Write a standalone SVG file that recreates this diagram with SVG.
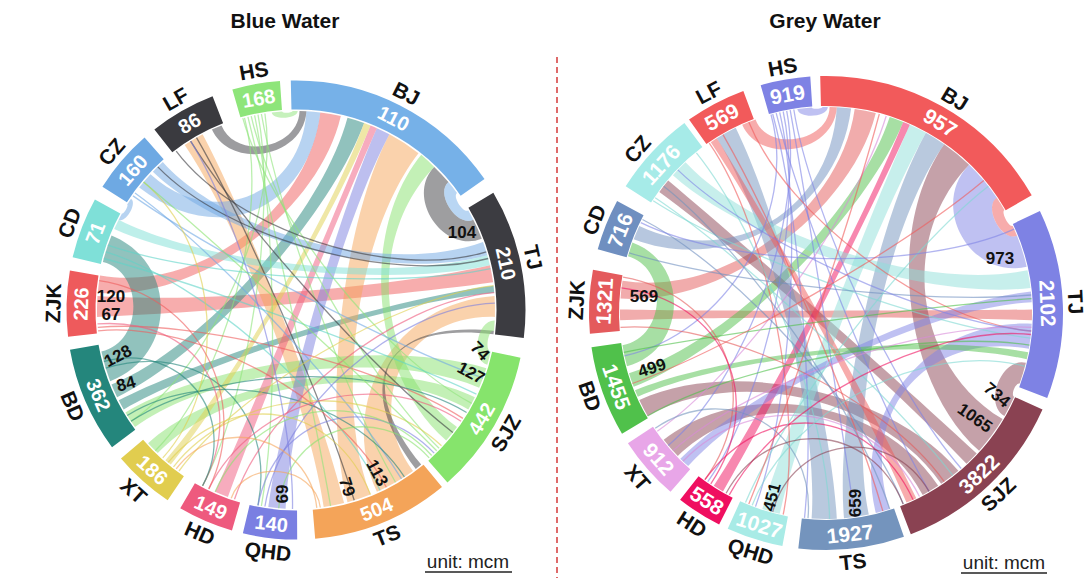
<svg xmlns="http://www.w3.org/2000/svg" width="1091" height="582" viewBox="0 0 1091 582">
<style>
text{font-family:"Liberation Sans",Arial,Helvetica,sans-serif;font-weight:bold}
.rib{stroke:none;fill-opacity:.5}
.ln{fill:none;stroke-width:1.3;stroke-opacity:.6}
.segL{fill:none;stroke-width:29}
.segR{fill:none;stroke-width:30}
.val{fill:#fff;font-size:20px;text-anchor:middle;dominant-baseline:central}
.valR{fill:#fff;font-size:21px;text-anchor:middle;dominant-baseline:central}
.nm{fill:#111;font-size:21px;text-anchor:middle;dominant-baseline:central}
.num{fill:#111;font-size:17px;text-anchor:middle;dominant-baseline:central}
.ttl{fill:#111;font-size:21px;text-anchor:middle}
.unit{fill:#222;font-size:19px;font-weight:normal;text-anchor:middle}
</style>
<rect width="1091" height="582" fill="#fff"/>

<text class="ttl" x="285" y="28">Blue Water</text>
<text class="ttl" x="825" y="28">Grey Water</text>
<line x1="557" y1="57" x2="557" y2="578" stroke="#d43a3a" stroke-width="1.5" stroke-dasharray="6 4"/>

<!-- LEFT connectors -->
<g id="connectors-left">
<path class="rib" fill="#3d3d42" d="M434.2,166.9 A199,199 0 0 1 448.4,182.1 C434.7,193.6 457.3,227.8 473.3,219.7 A199,199 0 0 1 481.8,238.7 C442.8,253.7 405.2,197.0 434.2,166.9 Z"/>
<path class="rib" fill="#74aee8" d="M448.4,182.1 A199,199 0 0 1 457.0,193.0 C452.2,196.5 463.1,213.5 468.3,210.5 A199,199 0 0 1 473.3,219.7 C457.3,227.8 434.7,193.6 448.4,182.1 Z"/>
<path class="rib" fill="#ef5b5b" d="M97.8,292.7 A199,199 0 0 1 100.0,275.4 C198.0,292.7 308.2,211.3 320.3,112.5 A199,199 0 0 1 340.8,116.1 C318.4,213.1 196.9,301.4 97.8,292.7 Z"/>
<path class="rib" fill="#ef5b5b" d="M97.1,316.9 A199,199 0 0 1 97.5,296.1 C196.8,303.1 393.0,287.6 489.9,265.2 A199,199 0 0 1 493.1,282.3 C394.6,296.2 196.6,313.5 97.1,316.9 Z"/>
<path class="rib" fill="#23857c" d="M110.2,381.3 A199,199 0 0 1 101.4,351.4 C143.2,342.5 144.4,272.2 102.9,261.9 A199,199 0 0 1 111.5,235.5 C177.9,262.3 177.1,355.6 110.2,381.3 Z"/>
<path class="rib" fill="#23857c" d="M117.1,397.2 A199,199 0 0 1 111.5,384.5 C203.8,347.3 321.8,213.9 347.5,117.8 A199,199 0 0 1 364.1,123.0 C330.1,216.5 206.6,353.6 117.1,397.2 Z"/>
<path class="rib" fill="#23857c" d="M123.7,409.5 A199,199 0 0 1 118.7,400.3 C207.4,355.2 394.8,297.9 493.5,285.7 A199,199 0 0 1 494.2,292.7 C395.1,301.4 209.9,359.8 123.7,409.5 Z"/>
<path class="rib" fill="#f5a55a" d="M494.5,296.1 A199,199 0 0 1 494.9,316.9 C407.4,313.9 361.5,400.2 413.0,471.0 A199,199 0 0 1 376.9,491.8 C336.5,400.9 395.3,303.1 494.5,296.1 Z"/>
<path class="rib" fill="#f5a55a" d="M389.4,134.3 A199,199 0 0 1 418.5,153.2 C357.3,231.6 333.3,402.3 370.5,494.5 A199,199 0 0 1 347.5,502.2 C321.8,406.1 342.7,222.2 389.4,134.3 Z"/>
<path class="rib" fill="#f5a55a" d="M344.1,503.1 A199,199 0 0 1 323.7,507.1 C309.9,408.6 240.4,227.5 184.7,145.0 A199,199 0 0 1 202.6,134.3 C249.3,222.2 320.1,406.6 344.1,503.1 Z"/>
<path class="rib" fill="#3d3d42" d="M493.9,330.8 A199,199 0 0 1 493.5,334.3 C384.9,320.9 352.3,379.6 421.2,464.6 A199,199 0 0 1 415.8,468.9 C349.9,381.5 385.1,319.4 493.9,330.8 Z"/>
<path class="rib" fill="#88e26e" d="M494.7,320.4 A199,199 0 0 1 493.9,330.8 C488.0,330.2 484.8,350.2 490.6,351.4 A199,199 0 0 1 487.3,364.8 C470.1,359.9 476.8,319.5 494.7,320.4 Z"/>
<path class="rib" fill="#88e26e" d="M486.3,368.2 A199,199 0 0 1 479.2,387.8 C387.6,348.9 215.5,368.5 135.0,427.0 A199,199 0 0 1 125.4,412.5 C210.7,361.3 391.2,339.1 486.3,368.2 Z"/>
<path class="rib" fill="#88e26e" d="M421.2,154.8 A199,199 0 0 1 434.2,166.9 C365.1,238.5 376.5,368.5 457.0,427.0 A199,199 0 0 1 446.2,440.6 C371.1,375.3 358.6,232.4 421.2,154.8 Z"/>
<path class="rib" fill="#88e26e" d="M474.9,397.2 A199,199 0 0 1 468.3,409.5 C382.2,359.8 226.9,381.6 157.8,453.1 A199,199 0 0 1 148.1,443.2 C222.1,376.6 385.5,353.6 474.9,397.2 Z"/>
<path class="rib" fill="#7b7fe0" d="M376.9,128.2 A199,199 0 0 1 389.4,134.3 C342.7,222.2 290.8,409.4 285.6,508.7 A199,199 0 0 1 268.3,507.1 C282.2,408.6 336.5,219.1 376.9,128.2 Z"/>
<path class="rib" fill="#ef5a7d" d="M370.5,125.5 A199,199 0 0 1 376.9,128.2 C336.5,219.1 262.0,403.5 227.9,497.0 A199,199 0 0 1 215.1,491.8 C255.6,400.9 333.3,217.8 370.5,125.5 Z"/>
<path class="rib" fill="#e0cf4d" d="M364.1,123.0 A199,199 0 0 1 370.5,125.5 C333.3,217.8 233.4,387.3 170.8,464.6 A199,199 0 0 1 165.4,460.2 C230.7,385.1 330.1,216.5 364.1,123.0 Z"/>
<path class="rib" fill="#6fa8e4" d="M139.2,187.5 A199,199 0 0 1 150.5,174.3 C211.6,231.3 302.0,194.8 306.4,111.3 A199,199 0 0 1 320.3,112.5 C308.2,211.3 217.6,248.8 139.2,187.5 Z"/>
<path class="rib" fill="#6fa8e4" d="M483.0,241.9 A199,199 0 0 1 487.3,255.2 C391.7,282.6 224.5,240.9 152.9,171.8 A199,199 0 0 1 162.8,162.1 C229.4,236.1 389.5,276.0 483.0,241.9 Z"/>
<path class="rib" fill="#7ee0d6" d="M487.3,255.2 A199,199 0 0 1 489.9,265.2 C393.0,287.6 205.1,269.6 114.2,229.1 A199,199 0 0 1 118.7,219.7 C207.4,264.9 391.7,282.6 487.3,255.2 Z"/>
<path class="rib" fill="#8de47a" d="M271.7,112.5 A199,199 0 0 1 282.1,111.5 C282.2,113.5 292.5,113.0 292.5,111.0 A199,199 0 0 1 297.7,111.0 C297.6,119.0 272.7,120.4 271.7,112.5 Z"/>
<path class="rib" fill="#3a3a40" d="M211.9,129.6 A199,199 0 0 1 221.5,125.5 C235.7,160.6 298.8,148.8 299.5,111.0 A199,199 0 0 1 306.4,111.3 C304.0,157.0 231.2,171.1 211.9,129.6 Z"/>
<path class="rib" fill="#6fa8e4" d="M118.7,219.7 A199,199 0 0 1 122.0,213.5 C123.7,214.5 128.9,205.6 127.2,204.5 A199,199 0 0 1 131.0,198.7 C137.6,203.2 125.8,223.3 118.7,219.7 Z"/>
<path class="ln" stroke="#8de47a" d="M247.9,116.9 C272.0,213.5 313.3,408.0 330.6,506.0"/>
<path class="ln" stroke="#8de47a" d="M251.2,116.1 C273.6,213.1 367.6,379.1 439.1,448.2"/>
<path class="ln" stroke="#8de47a" d="M254.6,115.3 C275.3,212.7 278.7,408.0 261.4,506.0"/>
<path class="ln" stroke="#8de47a" d="M258.0,114.7 C277.0,212.4 249.3,397.9 202.6,485.7"/>
<path class="ln" stroke="#8de47a" d="M261.4,114.0 C278.7,212.0 345.8,396.2 395.5,482.3"/>
<path class="ln" stroke="#8de47a" d="M264.9,113.5 C280.5,211.8 213.5,365.7 131.0,421.3"/>
<path class="ln" stroke="#8de47a" d="M244.5,117.8 C270.3,213.9 225.7,380.4 155.3,450.7"/>
<path class="ln" stroke="#8de47a" d="M242.8,118.2 C269.4,214.1 383.9,356.7 471.7,403.4"/>
<path class="ln" stroke="#3a3a40" d="M176.2,151.1 C236.1,230.6 391.2,280.9 486.3,251.8"/>
<path class="ln" stroke="#3a3a40" d="M157.8,166.9 C226.9,238.5 392.1,284.3 488.2,258.5"/>
<path class="ln" stroke="#3a3a40" d="M196.5,137.7 C246.3,223.9 325.1,405.2 354.2,500.3"/>
<path class="ln" stroke="#3a3a40" d="M190.6,141.2 C243.3,225.6 374.4,371.3 452.8,432.5"/>
<path class="ln" stroke="#6fa8e4" d="M133.0,195.9 C214.5,253.0 389.5,344.1 483.0,378.1"/>
<path class="ln" stroke="#6fa8e4" d="M135.0,193.0 C215.5,251.5 348.8,394.4 401.5,478.8"/>
<path class="ln" stroke="#5fd3c8" d="M103.8,258.5 C199.9,284.3 386.2,352.1 476.4,394.1"/>
<path class="ln" stroke="#5fd3c8" d="M105.7,251.8 C200.9,280.9 338.1,400.2 380.1,490.4"/>
<path class="ln" stroke="#5fd3c8" d="M107.8,245.2 C201.9,277.6 393.3,289.3 490.6,268.6"/>
<path class="ln" stroke="#ef5b5b" d="M97.8,327.3 C196.9,318.7 379.5,364.2 462.9,418.4"/>
<path class="ln" stroke="#ef5b5b" d="M98.1,330.8 C197.1,320.4 341.2,398.7 386.3,487.3"/>
<path class="ln" stroke="#23857c" d="M131.0,421.3 C213.5,365.7 381.3,361.3 466.6,412.5"/>
<path class="ln" stroke="#23857c" d="M127.2,415.5 C211.6,362.8 350.2,393.5 404.4,476.9"/>
<path class="ln" stroke="#23857c" d="M105.7,368.2 C200.9,339.1 277.0,407.7 258.0,505.3"/>
<path class="ln" stroke="#e0cf4d" d="M179.0,471.0 C237.5,390.5 394.8,297.9 493.5,285.7"/>
<path class="ln" stroke="#e0cf4d" d="M173.5,466.8 C234.8,388.4 368.8,377.9 441.5,445.7"/>
<path class="ln" stroke="#e0cf4d" d="M162.8,457.9 C229.4,384.0 219.8,246.1 143.6,182.1"/>
<path class="ln" stroke="#ef5a7d" d="M234.5,499.3 C265.3,404.7 395.1,301.4 494.2,292.7"/>
<path class="ln" stroke="#ef5a7d" d="M208.8,488.9 C252.4,399.5 378.5,365.7 461.0,421.3"/>
<path class="ln" stroke="#ef5a7d" d="M202.6,485.7 C249.3,397.9 196.8,317.0 97.5,323.9"/>
<path class="ln" stroke="#7b7fe0" d="M264.9,506.5 C280.5,408.3 395.5,306.6 494.9,303.1"/>
<path class="ln" stroke="#7b7fe0" d="M258.0,505.3 C275.5,415.5 370.6,387.3 434.2,453.1"/>
<path class="ln" stroke="#7b7fe0" d="M292.5,509.0 C294.3,409.5 243.3,225.6 190.6,141.2"/>
<path class="ln" stroke="#88e26e" d="M436.7,450.7 C366.4,380.4 219.8,246.1 143.6,182.1"/>
<path class="ln" stroke="#88e26e" d="M431.7,455.5 C363.9,382.8 255.6,400.9 215.1,491.8"/>
<path class="ln" stroke="#88e26e" d="M429.2,457.9 C375.9,398.7 285.6,428.9 278.7,508.2"/>
<path class="ln" stroke="#f5a55a" d="M316.8,507.9 C309.3,436.7 219.3,411.7 176.2,468.9"/>
<path class="ln" stroke="#f5a55a" d="M320.3,507.5 C315.1,465.0 245.1,457.7 231.2,498.2"/>
<path class="ln" stroke="#23857c" d="M103.8,361.5 C180.7,340.9 240.0,415.4 202.6,485.7"/>
<path class="ln" stroke="#ef5b5b" d="M99.2,280.6 C197.6,295.3 252.4,399.5 208.8,488.9"/>
<path class="ln" stroke="#e0cf4d" d="M168.1,462.4 C232.1,386.2 333.3,402.3 370.5,494.5"/>
</g>

<!-- RIGHT connectors -->
<g id="connectors-right">
<path class="rib" fill="#7f83e6" d="M969.1,164.8 A206,206 0 0 1 996.8,197.8 C983.1,207.0 1001.7,242.0 1017.0,235.8 A206,206 0 0 1 1026.7,266.7 C970.5,279.7 929.0,206.3 969.1,164.8 Z"/>
<path class="rib" fill="#f05a5a" d="M996.8,197.8 A206,206 0 0 1 1004.4,210.0 C1000.8,212.1 1009.0,227.6 1012.7,225.9 A206,206 0 0 1 1017.0,235.8 C1001.7,242.0 983.1,207.0 996.8,197.8 Z"/>
<path class="rib" fill="#e45a5a" d="M620.5,298.6 A206,206 0 0 1 622.5,280.8 C724.3,296.9 840.4,211.0 854.7,109.0 A206,206 0 0 1 875.8,113.1 C850.9,213.1 723.3,305.8 620.5,298.6 Z"/>
<path class="rib" fill="#e45a5a" d="M1032.0,309.4 A206,206 0 0 1 1031.9,320.2 C928.9,316.6 723.1,316.6 620.1,320.2 A206,206 0 0 1 620.0,309.4 C723.0,311.2 929.0,311.2 1032.0,309.4 Z"/>
<path class="rib" fill="#4fc04a" d="M627.0,366.3 A206,206 0 0 1 622.5,345.2 C665.2,338.4 669.6,268.1 628.0,256.2 A206,206 0 0 1 632.4,242.5 C690.5,263.6 686.7,350.3 627.0,366.3 Z"/>
<path class="rib" fill="#4fc04a" d="M889.7,117.1 A206,206 0 0 1 903.2,122.0 C864.6,217.5 729.9,349.9 633.7,386.8 A206,206 0 0 1 629.0,373.2 C727.5,343.1 857.9,215.1 889.7,117.1 Z"/>
<path class="rib" fill="#8b4353" d="M1025.9,362.8 A206,206 0 0 1 1019.6,383.5 C1015.7,382.1 1010.4,395.1 1014.2,396.8 A206,206 0 0 1 1004.4,416.0 C983.0,403.6 1001.9,356.8 1025.9,362.8 Z"/>
<path class="rib" fill="#8b4353" d="M944.2,144.3 A206,206 0 0 1 969.1,164.8 C897.6,238.9 914.3,366.1 1002.6,419.1 A206,206 0 0 1 979.1,450.8 C902.6,381.9 885.1,228.7 944.2,144.3 Z"/>
<path class="rib" fill="#8b4353" d="M958.4,470.8 A206,206 0 0 1 941.2,483.8 C883.6,398.4 736.8,364.5 647.6,416.0 A206,206 0 0 1 639.3,400.1 C732.7,356.6 892.2,391.9 958.4,470.8 Z"/>
<path class="rib" fill="#8b4353" d="M938.2,485.8 A206,206 0 0 1 922.7,494.9 C874.4,404.0 751.9,384.6 677.8,456.1 A206,206 0 0 1 663.7,439.8 C744.9,376.4 882.1,399.4 938.2,485.8 Z"/>
<path class="rib" fill="#8b4353" d="M976.7,453.5 A206,206 0 0 1 966.5,463.7 C896.3,388.4 742.7,252.5 659.3,191.9 A206,206 0 0 1 668.2,180.6 C747.1,246.8 901.4,383.3 976.7,453.5 Z"/>
<path class="rib" fill="#7394bd" d="M925.9,132.8 A206,206 0 0 1 944.2,144.3 C885.1,228.7 847.4,413.8 868.8,514.5 A206,206 0 0 1 844.0,518.2 C835.0,415.6 876.0,222.9 925.9,132.8 Z"/>
<path class="rib" fill="#7394bd" d="M836.8,518.7 A206,206 0 0 1 811.6,518.5 C818.8,415.8 771.4,225.7 716.8,138.3 A206,206 0 0 1 735.7,127.8 C780.9,220.4 831.4,415.9 836.8,518.7 Z"/>
<path class="rib" fill="#6f8fbf" d="M633.7,239.2 A206,206 0 0 1 639.3,225.9 C732.7,269.5 831.4,210.2 836.8,107.3 A206,206 0 0 1 851.1,108.5 C838.6,210.8 729.9,276.1 633.7,239.2 Z"/>
<path class="rib" fill="#8fe0da" d="M909.8,124.8 A206,206 0 0 1 925.9,132.8 C876.0,222.9 802.9,413.4 779.7,513.7 A206,206 0 0 1 762.3,508.9 C794.2,411.0 867.9,218.9 909.8,124.8 Z"/>
<path class="rib" fill="#f0115f" fill-opacity=".7" d="M903.2,122.0 A206,206 0 0 1 909.8,124.8 C867.9,218.9 774.5,402.2 723.0,491.4 A206,206 0 0 1 713.8,485.8 C769.9,399.4 864.6,217.5 903.2,122.0 Z"/>
<path class="rib" fill="#f05a5a" d="M742.2,124.8 A206,206 0 0 1 755.5,119.4 C767.5,152.3 829.0,142.0 829.6,107.0 A206,206 0 0 1 836.8,107.3 C834.4,152.6 760.6,166.2 742.2,124.8 Z"/>
<path class="rib" fill="#7f83e6" d="M797.3,109.0 A206,206 0 0 1 811.6,107.5 C811.7,109.6 822.4,109.1 822.4,107.0 A206,206 0 0 1 827.8,107.0 C827.7,117.3 798.7,119.2 797.3,109.0 Z"/>
<path class="rib" fill="#8fe0da" d="M1027.5,270.2 A206,206 0 0 1 1030.5,287.9 C928.3,300.5 749.5,244.1 672.9,175.2 A206,206 0 0 1 685.5,162.3 C755.8,237.7 926.8,291.6 1027.5,270.2 Z"/>
<path class="rib" fill="#7f83e6" d="M1031.7,323.8 A206,206 0 0 1 1028.9,348.8 C927.5,330.9 857.9,411.0 889.7,508.9 A206,206 0 0 1 875.8,512.9 C850.9,413.0 928.9,318.4 1031.7,323.8 Z"/>
<path class="rib" fill="#7f83e6" d="M1030.9,291.5 A206,206 0 0 1 1031.7,302.2 C928.9,307.6 757.1,389.6 688.2,466.1 A206,206 0 0 1 680.3,458.7 C753.2,385.9 928.5,302.3 1030.9,291.5 Z"/>
<path class="rib" fill="#4fc04a" d="M1028.2,352.3 A206,206 0 0 1 1026.7,359.3 C926.4,336.2 731.9,354.9 637.8,396.8 A206,206 0 0 1 635.0,390.2 C730.5,351.6 927.1,332.7 1028.2,352.3 Z"/>
<path class="rib" fill="#f05a5a" d="M916.3,498.2 A206,206 0 0 1 906.5,502.6 C866.3,407.8 768.4,227.6 710.8,142.2 A206,206 0 0 1 716.8,138.3 C771.4,225.7 871.2,405.6 916.3,498.2 Z"/>
<path class="ln" stroke="#7f83e6" d="M772.7,114.0 C799.4,213.5 815.3,415.5 804.5,517.9"/>
<path class="ln" stroke="#7f83e6" d="M776.2,113.1 C801.1,213.1 877.5,402.2 929.0,491.4"/>
<path class="ln" stroke="#7f83e6" d="M779.7,112.3 C802.9,212.7 790.8,409.8 755.5,506.6"/>
<path class="ln" stroke="#7f83e6" d="M783.2,111.5 C804.6,212.3 766.9,397.4 707.8,481.7"/>
<path class="ln" stroke="#7f83e6" d="M786.7,110.8 C806.4,211.9 747.1,379.2 668.2,445.4"/>
<path class="ln" stroke="#7f83e6" d="M790.2,110.1 C808.1,211.6 840.4,415.0 854.7,517.0"/>
<path class="ln" stroke="#7f83e6" d="M793.8,109.5 C809.9,211.3 893.6,390.8 961.2,468.5"/>
<path class="ln" stroke="#7f83e6" d="M771.0,114.5 C798.5,213.8 725.3,334.4 624.5,355.8"/>
<path class="ln" stroke="#f05a5a" d="M748.8,122.0 C787.4,217.5 928.6,322.0 1031.2,331.0"/>
<path class="ln" stroke="#f05a5a" d="M723.0,134.6 C774.5,223.8 854.4,412.0 882.8,511.0"/>
<path class="ln" stroke="#f05a5a" d="M709.3,143.2 C767.7,228.1 804.6,413.8 783.2,514.5"/>
<path class="ln" stroke="#7fd8d2" d="M653.2,200.8 C739.6,256.9 928.3,325.6 1030.5,338.1"/>
<path class="ln" stroke="#7fd8d2" d="M655.2,197.8 C740.6,255.4 889.4,394.2 952.8,475.3"/>
<path class="ln" stroke="#7fd8d2" d="M696.4,152.9 C761.2,233.0 827.8,416.0 829.6,519.0"/>
<path class="ln" stroke="#6f8fbf" d="M629.0,252.8 C727.5,282.9 928.6,304.0 1031.2,295.0"/>
<path class="ln" stroke="#6f8fbf" d="M642.5,219.5 C734.3,266.3 864.6,408.5 903.2,504.0"/>
<path class="ln" stroke="#e45a5a" d="M620.5,327.4 C723.3,320.2 885.1,397.4 944.2,481.7"/>
<path class="ln" stroke="#e45a5a" d="M623.1,277.2 C724.6,295.1 765.5,396.4 704.9,479.7"/>
<path class="ln" stroke="#4fc04a" d="M647.6,416.0 C736.8,364.5 927.8,329.1 1029.5,345.2"/>
<path class="ln" stroke="#4fc04a" d="M623.8,352.3 C724.9,332.7 928.8,305.8 1031.5,298.6"/>
<path class="ln" stroke="#d98ad9" d="M657.3,431.2 C741.7,372.1 856.1,214.5 886.2,116.0"/>
<path class="ln" stroke="#d98ad9" d="M672.9,450.8 C749.5,381.9 928.8,320.2 1031.5,327.4"/>
<path class="ln" stroke="#d98ad9" d="M682.9,461.2 C754.5,387.1 872.8,404.8 919.5,496.5"/>
<path class="ln" stroke="#f0115f" d="M729.3,494.9 C777.7,404.0 928.5,323.8 1030.9,334.5"/>
<path class="ln" stroke="#f0115f" d="M704.9,479.7 C765.5,396.4 869.6,406.4 913.1,499.7"/>
<path class="ln" stroke="#f0115f" d="M710.8,483.8 C768.4,398.4 723.8,300.5 621.5,287.9"/>
<path class="ln" stroke="#7fd8d2" d="M752.2,505.3 C789.1,409.2 925.5,339.7 1025.0,366.3"/>
<path class="ln" stroke="#7fd8d2" d="M745.5,502.6 C785.8,407.8 907.2,249.6 988.3,186.2"/>
<path class="ln" stroke="#7394bd" d="M889.7,508.9 C857.9,411.0 744.9,249.6 663.7,186.2"/>
<path class="ln" stroke="#7394bd" d="M808.0,518.2 C815.7,430.0 728.6,378.7 655.2,428.2"/>
<path class="ln" stroke="#7f83e6" d="M1014.2,229.2 C920.1,271.1 733.4,267.9 640.8,222.7"/>
<path class="ln" stroke="#7f83e6" d="M1031.2,331.0 C928.6,322.0 751.9,241.5 677.8,169.9"/>
<path class="ln" stroke="#8b4353" d="M903.2,504.0 C870.0,421.9 769.1,415.7 726.1,493.2"/>
<path class="ln" stroke="#8b4353" d="M929.0,491.4 C889.9,423.6 793.0,436.4 772.7,512.0"/>
<path class="ln" stroke="#f05a5a" d="M983.8,180.6 C904.9,246.8 729.2,348.3 632.4,383.5"/>
<path class="ln" stroke="#f05a5a" d="M879.3,114.0 C852.7,213.5 787.4,408.5 748.8,504.0"/>
</g>

<!-- LEFT nodes -->
<g id="L-BJ"><circle class="segL" cx="296" cy="310" r="215" stroke="#76b1e8" stroke-dasharray="212 1400" transform="rotate(268.7 296 310)"/><text class="val" x="296" y="95" transform="rotate(27 296 310)">110</text><text class="nm" x="296" y="67" transform="rotate(27 296 310)">BJ</text></g>
<g id="L-TJ"><circle class="segL" cx="296" cy="310" r="215" stroke="#3c3c41" stroke-dasharray="141.5 1400" transform="rotate(-30.7 296 310)"/><text class="val" x="296" y="95" transform="rotate(77.5 296 310)">210</text><text class="nm" x="296" y="67" transform="rotate(77.5 296 310)">TJ</text></g>
<g id="L-SJZ"><circle class="segL" cx="296" cy="310" r="215" stroke="#86e46c" stroke-dasharray="137.7 1400" transform="rotate(12 296 310)"/><text class="val" x="296" y="525" transform="rotate(-59.6 296 310)">442</text><text class="nm" x="296" y="553" transform="rotate(-59.6 296 310)">SJZ</text></g>
<g id="L-TS"><circle class="segL" cx="296" cy="310" r="215" stroke="#f4a459" stroke-dasharray="130.2 1400" transform="rotate(50.5 296 310)"/><text class="val" x="296" y="525" transform="rotate(-22 296 310)">504</text><text class="nm" x="296" y="553" transform="rotate(-22 296 310)">TS</text></g>
<g id="L-QHD"><circle class="segL" cx="296" cy="310" r="215" stroke="#7a7fe2" stroke-dasharray="51.4 1400" transform="rotate(89.7 296 310)"/><text class="val" x="296" y="525" transform="rotate(6.6 296 310)">140</text><text class="nm" x="296" y="553" transform="rotate(6.6 296 310)">QHD</text></g>
<g id="L-HD"><circle class="segL" cx="296" cy="310" r="215" stroke="#ee5a7e" stroke-dasharray="52.9 1400" transform="rotate(106.2 296 310)"/><text class="val" x="296" y="525" transform="rotate(23.3 296 310)">149</text><text class="nm" x="296" y="553" transform="rotate(23.3 296 310)">HD</text></g>
<g id="L-XT"><circle class="segL" cx="296" cy="310" r="215" stroke="#e1cd4f" stroke-dasharray="58.9 1400" transform="rotate(124 296 310)"/><text class="val" x="296" y="525" transform="rotate(41.9 296 310)">186</text><text class="nm" x="296" y="553" transform="rotate(41.9 296 310)">XT</text></g>
<g id="L-BD"><circle class="segL" cx="296" cy="310" r="215" stroke="#24867c" stroke-dasharray="100.2 1400" transform="rotate(143.3 296 310)"/><text class="val" x="296" y="525" transform="rotate(66.7 296 310)">362</text><text class="nm" x="296" y="553" transform="rotate(66.7 296 310)">BD</text></g>
<g id="L-ZJK"><circle class="segL" cx="296" cy="310" r="215" stroke="#ee5a5c" stroke-dasharray="62.3 1400" transform="rotate(173.3 296 310)"/><text class="val" x="296" y="95" transform="rotate(271.6 296 310)">226</text><text class="nm" x="296" y="67" transform="rotate(271.6 296 310)">ZJK</text></g>
<g id="L-CD"><circle class="segL" cx="296" cy="310" r="215" stroke="#7fe0d8" stroke-dasharray="58.2 1400" transform="rotate(193.3 296 310)"/><text class="val" x="296" y="95" transform="rotate(291 296 310)">71</text><text class="nm" x="296" y="67" transform="rotate(291 296 310)">CD</text></g>
<g id="L-CZ"><circle class="segL" cx="296" cy="310" r="215" stroke="#6ea9e3" stroke-dasharray="60.8 1400" transform="rotate(212.5 296 310)"/><text class="val" x="296" y="95" transform="rotate(310.6 296 310)">160</text><text class="nm" x="296" y="67" transform="rotate(310.6 296 310)">CZ</text></g>
<g id="L-LF"><circle class="segL" cx="296" cy="310" r="215" stroke="#3a3a3f" stroke-dasharray="63 1400" transform="rotate(231.9 296 310)"/><text class="val" x="296" y="95" transform="rotate(330.3 296 310)">86</text><text class="nm" x="296" y="67" transform="rotate(330.3 296 310)">LF</text></g>
<g id="L-HS"><circle class="segL" cx="296" cy="310" r="215" stroke="#8ee57a" stroke-dasharray="45.4 1400" transform="rotate(253.9 296 310)"/><text class="val" x="296" y="95" transform="rotate(350 296 310)">168</text><text class="nm" x="296" y="67" transform="rotate(350 296 310)">HS</text></g>

<!-- RIGHT nodes -->
<g id="R-BJ"><circle class="segR" cx="826" cy="313" r="222" stroke="#f25a5b" stroke-dasharray="238.7 1450" transform="rotate(268.6 826 313)"/><text class="valR" x="826" y="91" transform="rotate(31 826 313)">957</text><text class="nm" x="826" y="63" transform="rotate(31 826 313)">BJ</text></g>
<g id="R-TJ"><circle class="segR" cx="826" cy="313" r="222" stroke="#7e82e4" stroke-dasharray="180.2 1450" transform="rotate(-25.5 826 313)"/><text class="valR" x="826" y="91" transform="rotate(87.5 826 313)">2102</text><text class="nm" x="826" y="63" transform="rotate(87.5 826 313)">TJ</text></g>
<g id="R-SJZ"><circle class="segR" cx="826" cy="313" r="222" stroke="#8a4252" stroke-dasharray="174.4 1450" transform="rotate(24 826 313)"/><text class="valR" x="826" y="535" transform="rotate(-43.5 826 313)">3822</text><text class="nm" x="826" y="563" transform="rotate(-43.5 826 313)">SJZ</text></g>
<g id="R-TS"><circle class="segR" cx="826" cy="313" r="222" stroke="#7494bd" stroke-dasharray="100.4 1450" transform="rotate(70.8 826 313)"/><text class="valR" x="826" y="535" transform="rotate(-6.2 826 313)">1927</text><text class="nm" x="826" y="563" transform="rotate(-6.2 826 313)">TS</text></g>
<g id="R-QHD"><circle class="segR" cx="826" cy="313" r="222" stroke="#a8ebe6" stroke-dasharray="53.9 1450" transform="rotate(100.6 826 313)"/><text class="valR" x="826" y="535" transform="rotate(17.5 826 313)">1027</text><text class="nm" x="826" y="563" transform="rotate(17.5 826 313)">QHD</text></g>
<g id="R-HD"><circle class="segR" cx="826" cy="313" r="222" stroke="#ef0f60" stroke-dasharray="43.4 1450" transform="rotate(116.8 826 313)"/><text class="valR" x="826" y="535" transform="rotate(32.4 826 313)">558</text><text class="nm" x="826" y="563" transform="rotate(32.4 826 313)">HD</text></g>
<g id="R-XT"><circle class="segR" cx="826" cy="313" r="222" stroke="#e8a6e8" stroke-dasharray="60.8 1450" transform="rotate(131 826 313)"/><text class="valR" x="826" y="535" transform="rotate(48.9 826 313)">912</text><text class="nm" x="826" y="563" transform="rotate(48.9 826 313)">XT</text></g>
<g id="R-BD"><circle class="segR" cx="826" cy="313" r="222" stroke="#50c14b" stroke-dasharray="86.4 1450" transform="rotate(149.4 826 313)"/><text class="valR" x="826" y="535" transform="rotate(70.6 826 313)">1455</text><text class="nm" x="826" y="563" transform="rotate(70.6 826 313)">BD</text></g>
<g id="R-ZJK"><circle class="segR" cx="826" cy="313" r="222" stroke="#e45a5c" stroke-dasharray="60.1 1450" transform="rotate(175 826 313)"/><text class="valR" x="826" y="91" transform="rotate(273 826 313)">1321</text><text class="nm" x="826" y="63" transform="rotate(273 826 313)">ZJK</text></g>
<g id="R-CD"><circle class="segR" cx="826" cy="313" r="222" stroke="#6f8fc0" stroke-dasharray="48.8 1450" transform="rotate(195.6 826 313)"/><text class="valR" x="826" y="91" transform="rotate(291.9 826 313)">716</text><text class="nm" x="826" y="63" transform="rotate(291.9 826 313)">CD</text></g>
<g id="R-CZ"><circle class="segR" cx="826" cy="313" r="222" stroke="#a6ebe8" stroke-dasharray="81.4 1450" transform="rotate(212.3 826 313)"/><text class="valR" x="826" y="91" transform="rotate(312 826 313)">1176</text><text class="nm" x="826" y="63" transform="rotate(311 826 313)">CZ</text></g>
<g id="R-LF"><circle class="segR" cx="826" cy="313" r="222" stroke="#f25a5b" stroke-dasharray="57.7 1450" transform="rotate(234.7 826 313)"/><text class="valR" x="826" y="91" transform="rotate(332 826 313)">569</text><text class="nm" x="826" y="63" transform="rotate(332 826 313)">LF</text></g>
<g id="R-HS"><circle class="segR" cx="826" cy="313" r="222" stroke="#7e82e4" stroke-dasharray="47.3 1450" transform="rotate(254 826 313)"/><text class="valR" x="826" y="91" transform="rotate(350 826 313)">919</text><text class="nm" x="826" y="63" transform="rotate(350 826 313)">HS</text></g>

<!-- flow labels -->
<g id="flow-labels">
<text class="num" x="462" y="232">104</text>
<text class="num" x="111" y="296">120</text>
<text class="num" x="111" y="314">67</text>
<text class="num" transform="translate(118,356) rotate(-28)">128</text>
<text class="num" transform="translate(126,384) rotate(-15)">84</text>
<text class="num" transform="translate(480,351) rotate(45)">74</text>
<text class="num" transform="translate(471,373) rotate(28)">127</text>
<text class="num" transform="translate(377,473) rotate(62)">113</text>
<text class="num" transform="translate(347,487) rotate(72)">79</text>
<text class="num" transform="translate(281,494) rotate(90)">69</text>
<text class="num" x="1000" y="258">973</text>
<text class="num" x="644" y="296">569</text>
<text class="num" transform="translate(652,368) rotate(-18)">499</text>
<text class="num" transform="translate(997,395) rotate(40)">734</text>
<text class="num" transform="translate(975,418) rotate(35)">1065</text>
<text class="num" transform="translate(772,497) rotate(-75)">451</text>
<text class="num" transform="translate(855,503) rotate(-90)">659</text>
</g>

<text class="unit" x="468" y="568">unit: mcm</text>
<line x1="425" y1="572" x2="512" y2="572" stroke="#222" stroke-width="1.3"/>
<text class="unit" x="1004" y="569">unit: mcm</text>
<line x1="961" y1="573" x2="1047" y2="573" stroke="#222" stroke-width="1.3"/>
</svg>
